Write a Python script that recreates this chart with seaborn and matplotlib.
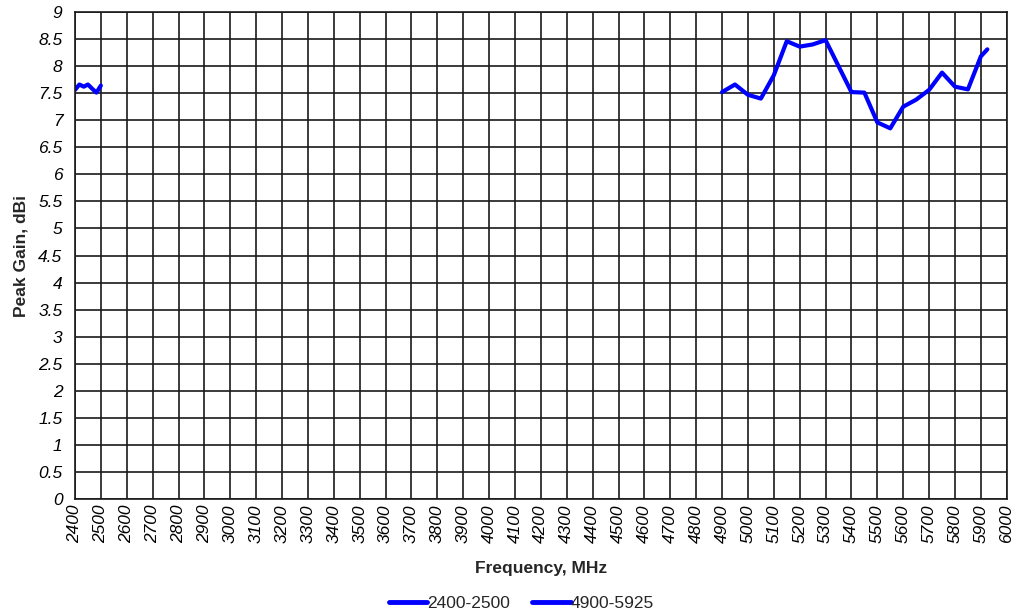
import matplotlib
matplotlib.use("Agg")
import matplotlib.pyplot as plt
import numpy as np
import pandas as pd
import seaborn as sns

# band 1: 2400-2500 MHz
freq_24 = [2400, 2417, 2434, 2450, 2467, 2483, 2500]
gain_24 = [7.56, 7.66, 7.62, 7.66, 7.58, 7.51, 7.64]

# band 2: 4900-5925 MHz
freq_5 = [4900, 4950, 5000, 5050, 5100, 5150, 5200, 5250, 5300, 5350,
          5400, 5450, 5500, 5550, 5600, 5650, 5700, 5750, 5800, 5850,
          5900, 5925]
gain_5 = [7.52, 7.66, 7.47, 7.40, 7.83, 8.46, 8.36, 8.40, 8.48, 8.00,
          7.52, 7.51, 6.96, 6.85, 7.25, 7.38, 7.56, 7.88, 7.62, 7.57,
          8.18, 8.31]

band_names = ["2400-2500", "4900-5925"]
x_ticks = list(range(2400, 6001, 100))
y_ticks = [i * 0.5 for i in range(0, 19)]

df = pd.concat([
    pd.DataFrame({"freq": freq_24, "gain": gain_24, "band": band_names[0]}),
    pd.DataFrame({"freq": freq_5, "gain": gain_5, "band": band_names[1]}),
])

sns.set_theme(style="white")
plt.rcParams["font.family"] = ["Liberation Sans", "DejaVu Sans"]

fig = plt.figure(figsize=(10.2, 6.15), dpi=100)
ax = fig.add_axes([0.0735, 0.1886, 0.9135, 0.7919])

sns.lineplot(data=df, x="freq", y="gain", hue="band", estimator=None, sort=False,
             palette=["#0000ff", "#0000ff"], linewidth=3.0, ax=ax, legend=False)

ax.set_xlim(2400, 6000)
ax.set_ylim(0, 9)
ax.set_xticks(x_ticks)
ax.set_yticks(y_ticks)
ax.set_xticklabels([str(v) for v in x_ticks], rotation=90, fontsize=12.5, style="italic")
ax.set_yticklabels([f"{v:g}" for v in y_ticks], fontsize=12.5, style="italic")
ax.tick_params(axis="both", length=0, colors="black")
ax.tick_params(axis="y", pad=9)
ax.tick_params(axis="x", pad=4)
ax.grid(True, color="#1a1a1a", linewidth=1.2)
ax.set_axisbelow(True)
for s in ax.spines.values():
    s.set_color("#1a1a1a")
    s.set_linewidth(1.2)

ax.set_xlabel("Frequency, MHz", fontsize=12.5, fontweight="bold", labelpad=13)
ax.set_ylabel("Peak Gain, dBi", fontsize=12.5, fontweight="bold", labelpad=7)

handles = [plt.Line2D([], [], color="#0000ff", linewidth=3.5) for _ in band_names]
fig.legend(handles, band_names, loc="center", bbox_to_anchor=(0.511, 0.019), ncol=2,
           frameon=False, fontsize=12.5, handlelength=2.2, handletextpad=0.0,
           columnspacing=1.3)

fig.savefig("out.png", dpi=100)
